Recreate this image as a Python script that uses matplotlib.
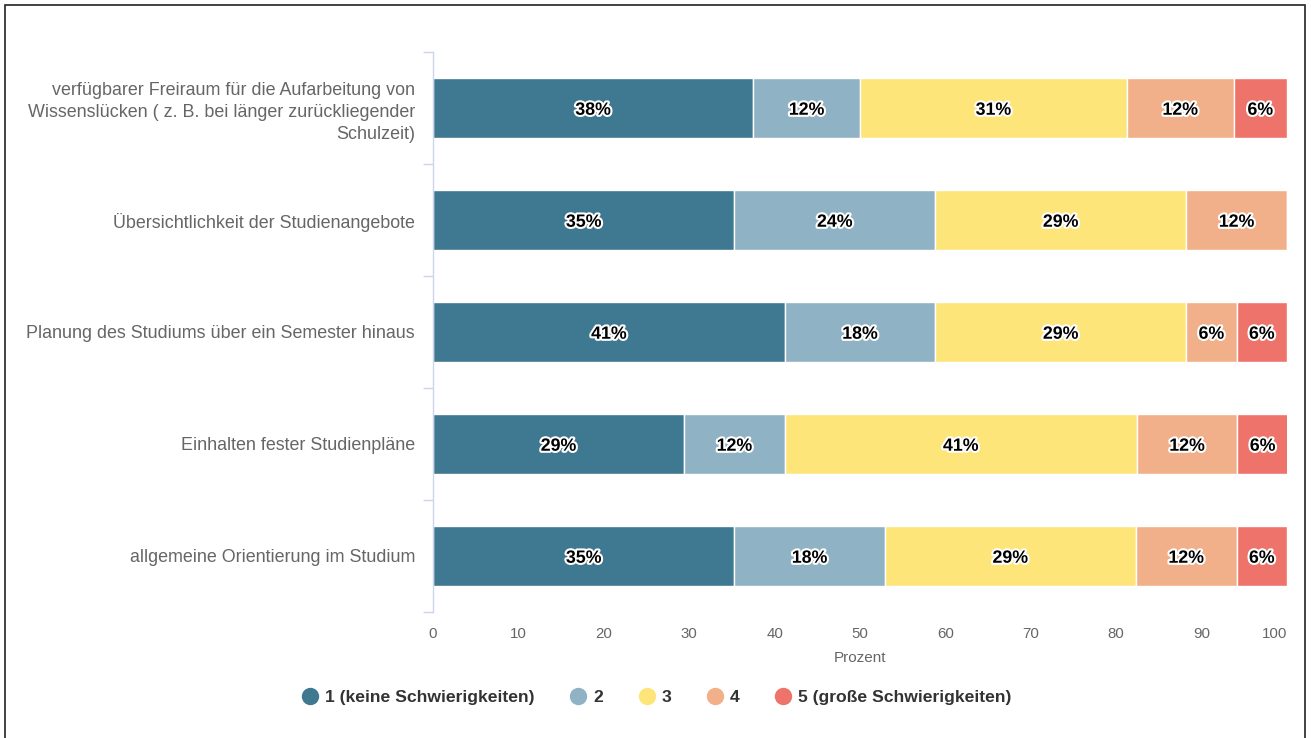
import matplotlib.pyplot as plt
import matplotlib.patheffects as pe
from matplotlib.lines import Line2D
from matplotlib.patches import Rectangle
import numpy as np

plt.rcParams['font.family'] = ['Liberation Sans', 'DejaVu Sans']

# Categories from top to bottom
categories = [
    "verfügbarer Freiraum für die Aufarbeitung von\nWissenslücken ( z. B. bei länger zurückliegender\nSchulzeit)",
    "Übersichtlichkeit der Studienangebote",
    "Planung des Studiums über ein Semester hinaus",
    "Einhalten fester Studienpläne",
    "allgemeine Orientierung im Studium",
]

# Share of answers (percent) per rating level
level_1 = [37.5, 35.3, 41.2, 29.4, 35.3]
level_2 = [12.5, 23.5, 17.6, 11.8, 17.6]
level_3 = [31.25, 29.4, 29.4, 41.2, 29.4]
level_4 = [12.5, 11.8, 5.9, 11.8, 11.8]
level_5 = [6.25, 0.0, 5.9, 5.9, 5.9]

series_names = ["1 (keine Schwierigkeiten)", "2", "3", "4", "5 (große Schwierigkeiten)"]
series_colors = ["#3e7891", "#8fb3c4", "#fee57a", "#f2b08a", "#ee736a"]
x_ticks = [0, 10, 20, 30, 40, 50, 60, 70, 80, 90, 100]

series = [level_1, level_2, level_3, level_4, level_5]

fig = plt.figure(figsize=(13.11, 7.38), dpi=100)
ax = fig.add_axes([433 / 1311, (738 - 612) / 738, 854 / 1311, 560 / 738])

y = np.arange(len(categories))
left = np.zeros(len(categories))
for values, name, color in zip(series, series_names, series_colors):
    values = np.array(values)
    ax.barh(y, values, left=left, height=0.54, color=color,
            edgecolor='white', linewidth=1, label=name)
    for yi, (l, v) in enumerate(zip(left, values)):
        if v <= 0:
            continue
        ax.text(l + v / 2, yi + 0.02, f"{v:.0f}%", ha='center', va='center',
                fontsize=12.8, fontweight='bold', color='black',
                path_effects=[pe.withStroke(linewidth=3, foreground='white')])
    left += values

ax.set_xlim(0, 100)
ax.set_ylim(len(categories) - 0.5, -0.5)

# x axis: labels only
ax.set_xticks(x_ticks)
ax.set_xticklabels([str(t) for t in x_ticks])
ax.tick_params(axis='x', length=0, pad=11, labelsize=10.8, labelcolor='#666666')
for lab in ax.get_xticklabels():
    if lab.get_text() == '100':
        lab.set_horizontalalignment('right')
ax.set_xlabel("Prozent", fontsize=11, color='#666666', labelpad=7)

# y axis: category labels with tick marks at band boundaries
ax.set_yticks(y)
ax.set_yticklabels(categories, linespacing=1.38)
ax.tick_params(axis='y', which='major', length=0, pad=13, labelsize=12.9,
               labelcolor='#666666')
ax.set_yticks(np.arange(-0.5, len(categories)), minor=True)
ax.tick_params(axis='y', which='minor', length=7.5, width=1, color='#ccd6eb')

for side in ['top', 'right', 'bottom']:
    ax.spines[side].set_visible(False)
ax.spines['left'].set_color('#ccd6eb')
ax.spines['left'].set_linewidth(1)

handles = [Line2D([0], [0], marker='o', linestyle='', markersize=11.5,
                  markerfacecolor=c, markeredgecolor=c) for c in series_colors]
leg = fig.legend(handles, series_names, loc='center', bbox_to_anchor=(0.5, 1 - 697 / 738),
                 ncol=5, frameon=False, handletextpad=0.25, columnspacing=1.9,
                 handlelength=1.2, prop={'size': 12.6, 'weight': 'bold'})
for t in leg.get_texts():
    t.set_color('#333333')

# outer frame
fig.patches.append(Rectangle((5 / 1311, -0.02), 1300 / 1311, 1 - 5 / 738 + 0.02,
                             transform=fig.transFigure, fill=False,
                             edgecolor='#222222', linewidth=1.2))

fig.savefig("out.png", dpi=100)
